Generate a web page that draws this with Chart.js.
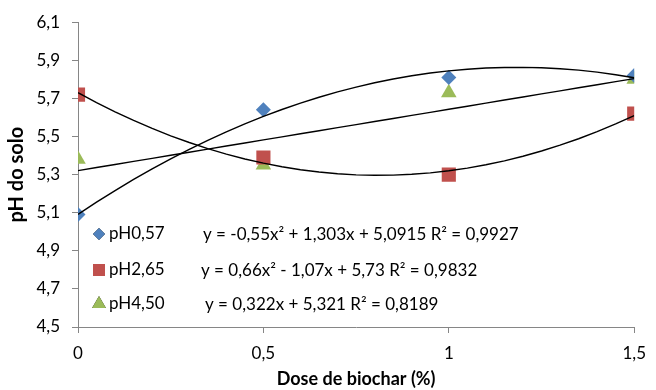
<!DOCTYPE html>
<html>
<head>
  <meta charset="utf-8">
  <title>pH do solo x Dose de biochar</title>
  <style>
    body { margin: 0; background: #fff; }
    #wrap { position: relative; width: 656px; height: 390px; }
  </style>
</head>
<body>
  <div id="wrap"><canvas id="phChart" width="656" height="390"></canvas></div>
  <script src="https://cdn.jsdelivr.net/npm/chart.js"></script>
  <script>
    // data
    const doses = [0, 0.5, 1, 1.5];
    const seriesNames = ['pH0,57', 'pH2,65', 'pH4,50'];
    const ph057 = [5.09, 5.64, 5.81, 5.82];
    const ph265 = [5.72, 5.39, 5.30, 5.62];
    const ph450 = [5.38, 5.35, 5.73, 5.80];
    // trendline coefficients as printed (a x² + b x + c)
    const fit057 = [-0.55, 1.303, 5.0915];
    const fit265 = [0.66, -1.07, 5.73];
    const fit450 = [0, 0.322, 5.321];
    const equations = [
      'y = -0,55x² + 1,303x + 5,0915 R² = 0,9927',
      'y = 0,66x² - 1,07x + 5,73 R² = 0,9832',
      'y = 0,322x + 5,321 R² = 0,8189'
    ];
    const yTicks = [4.5, 4.7, 4.9, 5.1, 5.3, 5.5, 5.7, 5.9, 6.1];
    const xTicks = [0, 0.5, 1, 1.5];

    const colors = ['#4F81BD', '#C0504D', '#9BBB59'];
    const styles = ['rectRot', 'rect', 'triangle'];
    const radii = [7.5, 10, 9];
    const FONT = 'Lato, "Open Sans", sans-serif';

    function pts(vals) { return doses.map((d, i) => ({ x: d, y: vals[i] })); }
    function curve(c) {
      const out = [];
      for (let k = 0; k <= 30; k++) {
        const x = k * 0.05;
        out.push({ x: x, y: c[0] * x * x + c[1] * x + c[2] });
      }
      return out;
    }
    const comma = v => String(v).replace('.', ',');

    const series = [ph057, ph265, ph450];
    const fits = [fit057, fit265, fit450];
    const datasets = [];
    fits.forEach((f, i) => {
      datasets.push({
        label: 'trend ' + seriesNames[i], data: curve(f), showLine: true,
        borderColor: '#000', borderWidth: 1.4, pointRadius: 0, tension: 0, order: 0
      });
    });
    series.forEach((s, i) => {
      datasets.push({
        label: seriesNames[i], data: pts(s), showLine: false,
        pointStyle: styles[i], pointRadius: radii[i], pointHoverRadius: radii[i],
        backgroundColor: colors[i], borderColor: colors[i], borderWidth: 0, order: 1
      });
    });

    // legend + equations drawn inside the plot, like the original
    const legendPlugin = {
      id: 'legendEq',
      afterDatasetsDraw(chart) {
        const ctx = chart.ctx;
        const rows = [234, 270, 304];
        const eqX = [203, 201, 205];
        ctx.save();
        ctx.font = '17px ' + FONT;
        ctx.fillStyle = '#000';
        ctx.textBaseline = 'middle';
        rows.forEach((y, i) => {
          Chart.helpers.drawPoint(ctx, {
            pointStyle: styles[i], radius: [6, 8.5, 8][i], borderWidth: 0
          }, 99, y);
          ctx.fillStyle = colors[i];
          ctx.fill();
          ctx.fillStyle = '#000';
          ctx.fillText(seriesNames[i], 109, y);
          ctx.fillText(equations[i], eqX[i], y + 1);
        });
        ctx.restore();
      }
    };

    new Chart(document.getElementById('phChart'), {
      type: 'scatter',
      data: { datasets },
      plugins: [legendPlugin],
      options: {
        responsive: false,
        animation: false,
        events: [],
        layout: { padding: { top: 22, right: 14, left: 0, bottom: 0 } },
        plugins: { legend: { display: false }, tooltip: { enabled: false } },
        scales: {
          x: {
            type: 'linear', min: 0, max: 1.5,
            afterBuildTicks: s => { s.ticks = xTicks.map(v => ({ value: v })); },
            afterFit: s => { s.height = 63; },
            grid: { drawOnChartArea: false, tickLength: 6, color: '#868686' },
            border: { color: '#868686', width: 1 },
            ticks: { padding: 10, color: '#000', font: { family: FONT, size: 17 }, callback: v => comma(v) },
            title: { display: true, text: 'Dose de biochar (%)', color: '#000',
                     font: { family: FONT, size: 18, weight: 'bold' }, padding: { top: 0, bottom: 0 } }
          },
          y: {
            min: 4.5, max: 6.1,
            afterBuildTicks: s => { s.ticks = yTicks.map(v => ({ value: v })); },
            afterFit: s => { s.width = 78; },
            grid: { drawOnChartArea: false, tickLength: 6, color: '#868686' },
            border: { color: '#868686', width: 1 },
            ticks: { padding: 12, color: '#000', font: { family: FONT, size: 17 }, callback: v => v.toFixed(1).replace('.', ',') },
            title: { display: true, text: 'pH do solo', color: '#000',
                     font: { family: FONT, size: 20, weight: 'bold' }, padding: { top: 5, bottom: 0 } }
          }
        }
      }
    });
  </script>
</body>
</html>
